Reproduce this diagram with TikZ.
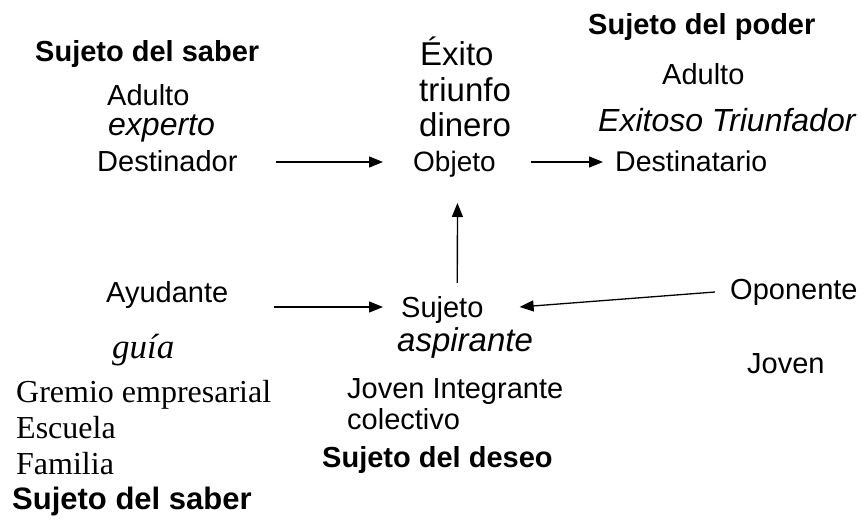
\documentclass[tikz,border=0pt]{standalone}
\usepackage{fontspec}
\setmainfont{Liberation Serif}
\newfontfamily\arialfont{Liberation Sans}
\usepackage{tikz}
\usetikzlibrary{positioning,arrows.meta}

\begin{document}
\begin{tikzpicture}[
    x=1pt, y=-1pt,
    txt_base/.style={inner sep=0pt, anchor=base west},
    txt_sans/.style={txt_base, font=\arialfont\fontsize{#1}{#1}\selectfont},
    txt_bold/.style={txt_base, font=\arialfont\bfseries\fontsize{#1}{#1}\selectfont},
    txt_ital/.style={txt_base, font=\arialfont\itshape\fontsize{#1}{#1}\selectfont},
    txt_serif/.style={txt_base, font=\fontsize{#1}{#1}\selectfont},
    txt_serit/.style={txt_base, font=\itshape\fontsize{#1}{#1}\selectfont},
    arrow/.style={-{Triangle[length=14pt,width=11pt]}, line width=1.3pt}
]
\useasboundingbox (0,0) rectangle (862,521);

% Destinador
\node (saber_top) [txt_bold=29] at (35,62) {Sujeto del saber};
\node (adulto_left) [txt_sans=29] at (107,106) {Adulto};
\node (experto) [txt_ital=32] at (108,136) {experto};
\node (destinador) [txt_sans=29] at (97,172) {Destinador};

% Objeto
\node (exito) [txt_sans=33] at (420,66) {Éxito};
\node (triunfo) [txt_sans=33] at (419,102) {triunfo};
\node (dinero) [txt_sans=33] at (419,137) {dinero};
\node (objeto) [txt_sans=28] at (413,172) {Objeto};

% Destinatario
\node (poder) [txt_bold=29] at (588,35) {Sujeto del poder};
\node (adulto_right) [txt_sans=29] at (662,85) {Adulto};
\node (exitoso) [txt_ital=32] at (598,132) {Exitoso Triunfador};
\node (destinatario) [txt_sans=28.5] at (615,172) {Destinatario};

% Ayudante
\node (ayudante) [txt_sans=29] at (106,302) {Ayudante};
\node (guia) [txt_serit=35] at (112,358) {guía};
\node (gremio) [txt_serif=32] at (16,402) {Gremio empresarial};
\node (escuela) [txt_serif=32] at (16,438) {Escuela};
\node (familia) [txt_serif=32] at (16,474) {Familia};
\node (saber_bottom) [txt_bold=31] at (12,509) {Sujeto del saber};

% Sujeto
\node (sujeto) [txt_sans=29] at (401,318) {Sujeto};
\node (aspirante) [txt_ital=33] at (397,352) {aspirante};
\node (joven_int) [txt_sans=29] at (347,398) {Joven Integrante};
\node (colectivo) [txt_sans=29] at (347,429) {colectivo};
\node (deseo) [txt_bold=29] at (322,467) {Sujeto del deseo};

% Oponente
\node (oponente) [txt_sans=29] at (730,300) {Oponente};
\node (joven_right) [txt_sans=29] at (747,373) {Joven};

% Connections
\draw [arrow] ([xshift=38pt,yshift=10pt]destinador.base east) -- ([xshift=-30pt,yshift=10pt]objeto.base west);
\draw [arrow] ([xshift=35pt,yshift=10pt]objeto.base east) -- ([xshift=-12pt,yshift=10pt]destinatario.base west);
\draw [arrow] ([xshift=15pt,yshift=35pt]sujeto.base) -- ([xshift=3pt,yshift=-31pt]objeto.base);
\draw [arrow] ([xshift=46pt,yshift=-5pt]ayudante.base east) -- ([xshift=-18pt,yshift=11pt]sujeto.base west);
\draw [arrow] ([xshift=-15pt,yshift=8pt]oponente.base west) -- ([xshift=36pt,yshift=11pt]sujeto.base east);

\end{tikzpicture}
\end{document}
